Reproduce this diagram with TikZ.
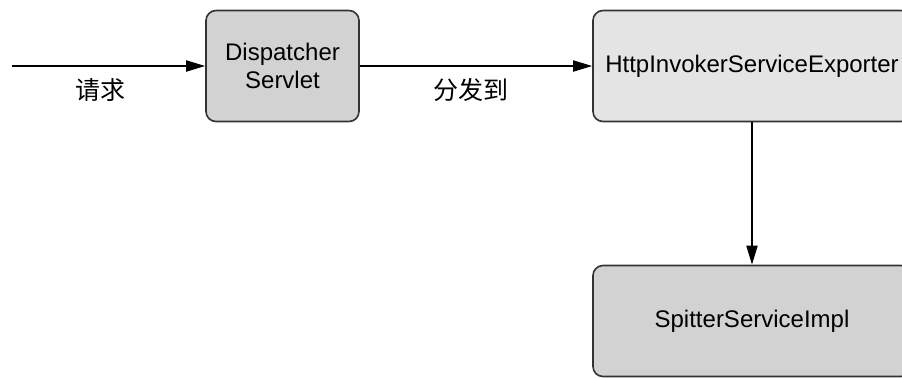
\documentclass[tikz,border=0pt]{standalone}
\usepackage{fontspec}
\setmainfont{Liberation Sans}
\newfontfamily\cjk{Noto Sans CJK SC}
\usetikzlibrary{arrows.meta}

\definecolor{boxdark}{HTML}{D2D2D2}
\definecolor{boxlight}{HTML}{E4E4E4}
\definecolor{boxline}{HTML}{333333}

\tikzset{
  compbox/.style={draw=boxline, line width=0.8pt, rounded corners=5pt,
    minimum height=55.5pt, align=center, font=\fontsize{12}{14}\selectfont},
  flow/.style={line width=0.9pt, -{Triangle[length=9.5pt,width=5.5pt]}},
  flowlabel/.style={font=\cjk\fontsize{12.5}{14}\selectfont, below=2.5pt}
}

\begin{document}
\begin{tikzpicture}[x=0.5pt,y=-0.5pt]
		\clip (0,0) rectangle (902,377);
		\useasboundingbox (0,0) rectangle (902,377);
		\coordinate (src) at (12,66);
		\node[compbox, fill=boxdark, minimum width=76.5pt] (dispatcher) at (282.5,66) {Dispatcher\\Servlet};
		\node[compbox, fill=boxlight, minimum width=159pt] (exporter) at (752,66) {HttpInvokerServiceExporter};
		\node[compbox, fill=boxdark, minimum width=159pt] (impl) at (752,321) {SpitterServiceImpl};
		\draw[flow] (src) -- node[flowlabel, pos=0.46] {请求} (dispatcher);
		\draw[flow] (dispatcher) -- node[flowlabel, pos=0.48] {分发到} (exporter);
		\draw[flow] (exporter) -- (impl);
		\end{tikzpicture}
\end{document}
